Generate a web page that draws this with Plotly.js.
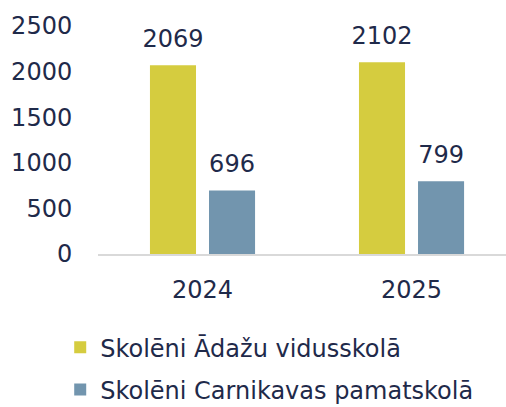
<!DOCTYPE html>
<html><head><meta charset="utf-8">
<script src="https://cdn.plot.ly/plotly-3.0.1.min.js"></script>
<style>body{margin:0;padding:0;background:#fff}#chart{width:506px;height:407px}</style>
</head><body><div id="chart"></div>
<script>
const years = ["2024", "2025"];
const seriesNames = ["Skolēni Ādažu vidusskolā", "Skolēni Carnikavas pamatskolā"];
const adazi = [2069, 2102];
const carnikava = [696, 799];
const colors = ["#d5cc3f", "#7295ae"];
const font = "DejaVu Sans, sans-serif";
const txt = "#1f2a4a";
const fs = 24;
const series = [adazi, carnikava];
const bars = series.map((v, i) => ({
  type: "bar", x: years, y: v, name: seriesNames[i],
  marker: {color: colors[i]}, legendgroup: "g" + i,
  offsetgroup: "o" + i, alignmentgroup: "a",
  cliponaxis: false
}));
const labels = series.map((v, i) => ({
  type: "scatter", mode: "markers+text", x: years, y: v, showlegend: false,
  offsetgroup: "o" + i, alignmentgroup: "a",
  marker: {size: 18, color: "rgba(0,0,0,0)"},
  text: v.map(String), textposition: "top center", cliponaxis: false,
  textfont: {family: font, size: fs, color: txt}
}));
Plotly.newPlot("chart", bars.concat(labels), {
  width: 506, height: 407,
  margin: {l: 98, r: 0, t: 26, b: 153, autoexpand: false},
  paper_bgcolor: "#fff", plot_bgcolor: "#fff",
  font: {family: font, size: fs, color: txt},
  barmode: "group", scattermode: "group", bargap: 0.435, bargroupgap: 0.22,
  xaxis: {type: "category", range: [-0.5, 1.452], showline: true, linecolor: "#d9d9d9", linewidth: 2,
    ticks: "outside", ticklen: 13, tickcolor: "rgba(0,0,0,0)", showgrid: false,
    tickfont: {family: font, size: fs, color: txt}},
  yaxis: {range: [0, 2500], dtick: 500, showgrid: false, zeroline: false, showline: false,
    ticks: "outside", ticklen: 20, tickcolor: "rgba(0,0,0,0)",
    tickfont: {family: font, size: fs, color: txt}},
  showlegend: true,
  legend: {orientation: "v", xref: "container", yref: "container", x: 0.119, xanchor: "left",
    y: 0.201, yanchor: "top", traceorder: "grouped", tracegroupgap: 8,
    font: {family: font, size: fs, color: txt}}
}, {displayModeBar: false, staticPlot: true});
</script></body></html>
